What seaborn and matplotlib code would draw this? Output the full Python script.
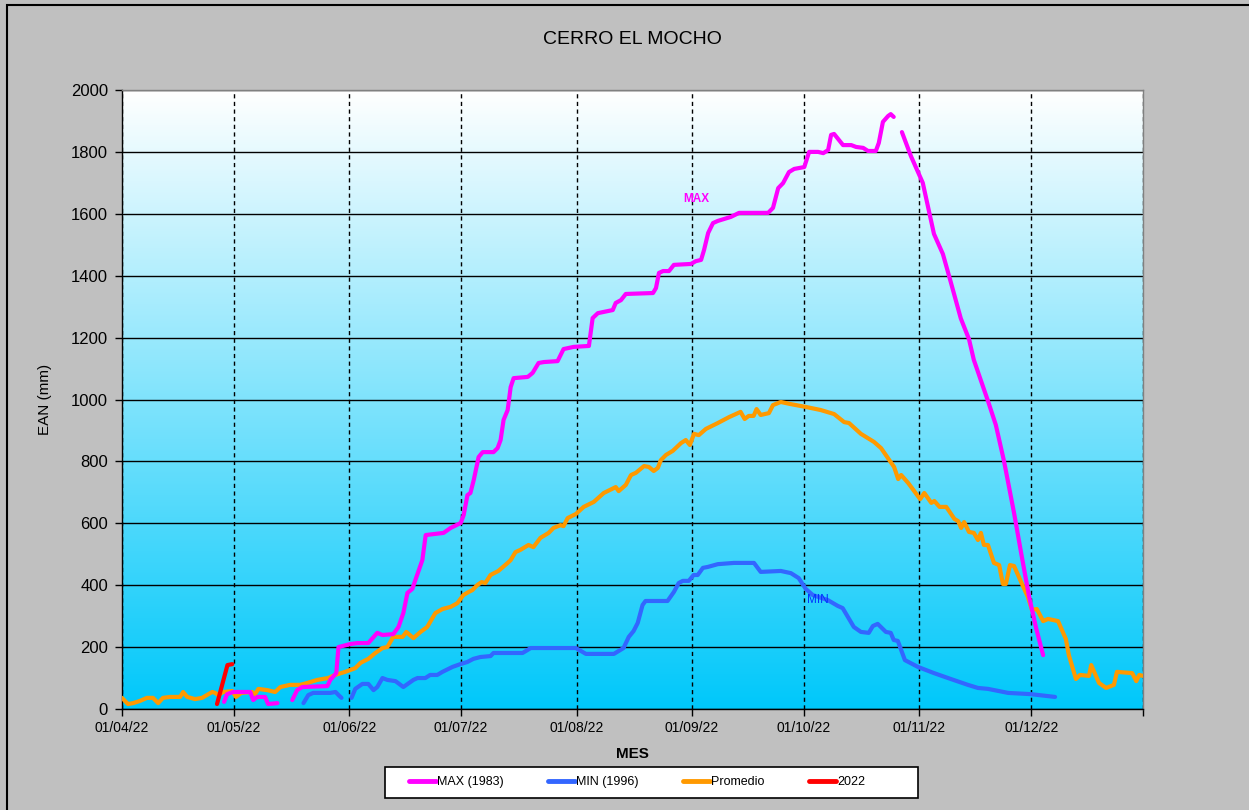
import numpy as np
import pandas as pd
import matplotlib
matplotlib.use('Agg')
import matplotlib.pyplot as plt
import seaborn as sns
from matplotlib.colors import LinearSegmentedColormap
from matplotlib.lines import Line2D
from matplotlib.patches import Rectangle

nan = np.nan
inicio = pd.Timestamp('2022-04-01')

# dias desde 01/04/22 y EAN (mm); nan = corte de la serie
max_dias = [27.4, 28.2, 29.8, 34.4, 35.2, 36.3, 38.4, 39.2, 41.7, nan,
            45.7, 47.0, 48.4, 55.1, 55.9, 57.5, 58.1, 61.3, 63.2, 66.1, 68.5, 69.9, 72.8, 74.2,
            75.5, 76.6, 77.9, 80.6, 81.5, 86.3, 88.2, 90.9, 91.7, 92.7, 93.5, 94.4, 95.7, 96.8,
            99.7, 100.8, 101.6, 102.4, 103.5, 104.3, 105.1, 108.9, 110.2, 111.8, 113.2, 116.9,
            118.5, 121.2, 125.3, 126.3, 127.7, 131.7, 132.5, 133.9, 135.2, 142.5, 143.3, 144.1,
            145.2, 146.8, 148.1, 152.7, 154.0, 155.4, 156.2, 157.3, 158.6, 159.9, 163.4, 165.6,
            173.4, 174.7, 176.1, 177.4, 179.0, 180.4, 183.1, 184.4, 186.8, 188.2, 189.5, 190.3,
            191.1, 193.5, 195.7, 197.0, 198.9, 200.2, 202.3, 203.1, 204.2, 205.6, 206.3, 207.1, nan,
            209.3, 211.7, 214.9, 217.9, 220.3, 222.4, 225.1, 227.3, 228.6, 232.4, 234.5, 236.7,
            239.4, 241.3, 243.4, 245.3, 247.2]
max_ean = [23, 48, 55, 55, 29, 39, 39, 16, 19, nan,
           29, 61, 71, 74, 94, 116, 200, 210, 213, 213, 246, 239, 242, 265,
           310, 375, 388, 481, 562, 569, 585, 601, 627, 691, 698, 740, 814, 830,
           830, 843, 869, 934, 966, 1040, 1069, 1073, 1086, 1118, 1121, 1124,
           1163, 1170, 1173, 1263, 1279, 1289, 1312, 1321, 1341, 1344, 1360, 1409,
           1415, 1415, 1435, 1438, 1447, 1451, 1483, 1538, 1570, 1577, 1590, 1603,
           1603, 1619, 1683, 1699, 1735, 1745, 1751, 1800, 1800, 1796, 1806, 1855,
           1858, 1822, 1822, 1816, 1813, 1803, 1803, 1829, 1897, 1916, 1922, 1913, nan,
           1864, 1787, 1700, 1535, 1470, 1380, 1262, 1195, 1128, 995, 918, 801,
           633, 504, 365, 262, 174]

min_dias = [48.7, 50.0, 51.3, 55.9, 57.3, 58.1, 58.9, nan,
            61.6, 62.6, 64.5, 66.1, 67.5, 68.5, 69.9, 71.2, 73.4, 75.5, 78.2, 79.3, 81.4, 82.7,
            84.6, 86.0, 88.7, 90.8, 92.7, 94.3, 96.2, 98.9, 99.7, 107.5, 109.7, 121.8, 124.5,
            132.0, 134.6, 136.0, 137.3, 138.4, 139.7, 140.5, 146.4, 148.1, 149.4, 150.5, 152.1,
            153.4, 154.5, 155.9, 157.2, 159.9, 164.2, 169.6, 171.4, 176.8, 179.5, 181.6, 183.5,
            185.4, 189.4, 192.1, 193.4, 196.4, 198.3, 200.4, 201.5, 202.8, 205.0, 206.3, 207.1,
            208.2, 210.1, 213.6, 217.9, 222.4, 227.0, 229.7, 232.4, 237.8, 243.9, 250.4]
min_ean = [19, 45, 52, 52, 55, 45, 36, nan,
           36, 65, 81, 81, 61, 71, 100, 94, 90, 71, 94, 100, 100, 110,
           110, 120, 136, 145, 152, 162, 168, 171, 181, 181, 197, 197, 178,
           178, 197, 233, 252, 278, 336, 349, 349, 378, 407, 414, 414,
           433, 433, 456, 459, 468, 472, 472, 443, 446, 439, 423, 388,
           368, 352, 333, 326, 265, 249, 246, 268, 275, 249, 246, 223,
           220, 158, 136, 116, 97, 78, 68, 65, 52, 48, 39]

prom_dias = [0.0, 1.6, 3.0, 4.8, 6.7, 8.3, 9.7, 11.0, 12.9, 15.6, 16.4, 17.5, 19.6, 21.5,
             22.8, 24.2, 25.0, 25.8, 27.2, 29.6, 30.6, 32.0, 34.9, 35.7, 36.6, 39.0, 41.1,
             42.5, 45.1, 47.8, 49.7, 52.4, 55.3, 57.2, 59.9, 62.6, 64.0, 66.1, 68.0, 69.9,
             71.2, 72.8, 75.3, 76.3, 78.2, 80.1, 81.9, 84.1, 86.0, 88.2, 90.0, 91.6, 93.0,
             94.0, 95.4, 96.5, 97.5, 98.9, 101.0, 103.5, 104.3, 105.6, 106.9, 109.1, 110.4,
             112.3, 114.5, 115.8, 117.7, 118.5, 119.6, 121.8, 123.9, 126.6, 129.3, 132.5,
             133.3, 135.2, 136.6, 137.9, 140.1, 141.4, 142.7, 143.8, 144.6, 146.0, 147.8,
             150.0, 151.3, 152.4, 153.5, 154.8, 156.7, 159.9, 162.9, 166.0, 167.1, 168.2,
             169.5, 170.3, 171.4, 173.6, 174.7, 176.8, 179.5, 183.5, 187.5, 191.1, 193.8,
             195.1, 198.3, 201.8, 203.7, 205.9, 207.2, 208.3, 209.1, 211.0, 212.6, 214.2,
             215.3, 217.2, 218.0, 219.4, 221.2, 223.4, 224.4, 225.2, 226.0, 227.3, 228.6,
             229.7, 230.5, 231.3, 232.4, 234.0, 235.4, 236.4, 237.2, 238.3, 239.4, 241.3,
             243.1, 244.2, 245.5, 247.2, 248.5, 251.2, 253.3, 254.1, 256.0, 257.1, 259.5,
             260.1, 262.2, 264.1, 266.2, 267.0, 271.1, 272.2, 273.0, 274.0]
prom_ean = [36, 16, 19, 26, 36, 36, 19, 36, 39, 39, 55, 39, 32, 36,
            45, 55, 52, 45, 55, 58, 39, 52, 55, 48, 65, 61, 55,
            71, 78, 78, 84, 94, 100, 110, 120, 132, 149, 162, 181, 197,
            200, 233, 233, 249, 229, 249, 265, 310, 323, 330, 342, 368, 378,
            384, 401, 410, 407, 433, 446, 472, 481, 507, 514, 530, 523,
            553, 569, 585, 594, 591, 617, 630, 653, 669, 698, 717,
            704, 724, 756, 763, 785, 782, 769, 779, 804, 821, 834,
            859, 869, 853, 889, 885, 905, 924, 943, 960, 937, 947,
            947, 969, 950, 956, 982, 992, 985, 976, 966, 953, 927,
            924, 889, 863, 843, 805, 782, 743, 756, 730, 704, 678,
            698, 666, 672, 653, 653, 614, 607, 585, 604, 572, 569,
            546, 569, 530, 530, 472, 465, 404, 404, 465, 462, 410,
            362, 320, 323, 284, 291, 284, 226, 174, 97, 110, 107,
            142, 84, 68, 78, 120, 116, 90, 110, 107]

dias_2022 = [25.5, 28.3, 29.6]
ean_2022 = [16, 142, 145]

series = ['MAX (1983)', 'MIN (1996)', 'Promedio', '2022']
colores = ['#FF00FF', '#3366FF', '#FF9900', '#FF0000']
mes_ticks = ['2022-04-01', '2022-05-01', '2022-06-01', '2022-07-01', '2022-08-01',
             '2022-09-01', '2022-10-01', '2022-11-01', '2022-12-01', '2022-12-31']
mes_labels = ['01/04/22', '01/05/22', '01/06/22', '01/07/22', '01/08/22',
              '01/09/22', '01/10/22', '01/11/22', '01/12/22', '']


def tramos(dias, ean, serie):
    d = np.array(dias, float)
    v = np.array(ean, float)
    corte = np.isnan(v)
    grupo = np.cumsum(corte)
    df = pd.DataFrame({'fecha': inicio + pd.to_timedelta(np.nan_to_num(d), unit='D'),
                       'ean': v, 'serie': serie,
                       'tramo': [f'{serie}-{g}' for g in grupo]})
    return df[~corte]


datos = pd.concat([tramos(max_dias, max_ean, series[0]),
                   tramos(min_dias, min_ean, series[1]),
                   tramos(prom_dias, prom_ean, series[2]),
                   tramos(dias_2022, ean_2022, series[3])], ignore_index=True)

sns.set_style('ticks')
plt.rcParams['font.family'] = ['Liberation Sans', 'DejaVu Sans']
plt.rcParams.update({'text.color': 'black', 'axes.labelcolor': 'black',
                     'xtick.color': 'black', 'ytick.color': 'black'})

W, H = 1249, 810
fig = plt.figure(figsize=(W / 100, H / 100), dpi=100, facecolor='#C0C0C0')
ax = fig.add_axes([122 / W, 1 - 709 / H, 1021 / W, 619 / H])

# fondo degradado del area de trazado
cmap = LinearSegmentedColormap.from_list('fondo', ['#00C8FA', '#FFFFFF'])
ax.imshow(np.linspace(0, 1, 256).reshape(-1, 1), cmap=cmap, origin='lower',
          extent=[0, 1, 0, 1], transform=ax.transAxes, aspect='auto', zorder=0)

orden = ['Promedio', 'MIN (1996)', 'MAX (1983)', '2022']
paleta = dict(zip(series, colores))
sns.lineplot(data=datos, x='fecha', y='ean', hue='serie', units='tramo', estimator=None,
             hue_order=orden, palette=paleta, linewidth=3, legend=False, ax=ax,
             solid_capstyle='round', zorder=3)

ticks = pd.to_datetime(mes_ticks)
ax.set_xlim(ticks[0], ticks[-1])
ax.set_ylim(0, 2000)
ax.set_yticks(range(0, 2001, 200))
ax.set_xticks(ticks)
ax.set_xticklabels(mes_labels)

ax.set_axisbelow(True)
ax.yaxis.grid(True, color='black', lw=1, linestyle='-')
ax.xaxis.grid(True, color='black', lw=1, linestyle=(0, (3, 2.5)))
ax.tick_params(axis='both', direction='out', length=5, width=1, color='black',
               labelcolor='black')
ax.tick_params(axis='x', labelsize=10, pad=4)
ax.tick_params(axis='y', labelsize=12, pad=5)

for s in ['left', 'bottom']:
    ax.spines[s].set_color('black')
    ax.spines[s].set_linewidth(1)
for s in ['top', 'right']:
    ax.spines[s].set_color('#808080')
    ax.spines[s].set_linewidth(1)

ax.set_xlabel('MES', fontsize=11, fontweight='bold', labelpad=8, color='black')
ax.set_ylabel('EAN (mm)', fontsize=11, labelpad=14, color='black')

ax.text(inicio + pd.Timedelta(days=150.5), 1648, 'MAX', color='#FF00FF', fontsize=8.5,
        fontweight='bold', ha='left', va='center')
ax.text(inicio + pd.Timedelta(days=183.8), 352, 'MIN', color='#0033FF', fontsize=8.5,
        ha='left', va='center')

fig.text(632 / W, 1 - 40 / H, 'CERRO EL MOCHO', fontsize=14, ha='center', va='center',
         color='black')

# marco del grafico y leyenda
fig.add_artist(Rectangle((7 / W, -0.1), 1.2, 1.1 - 5 / H, transform=fig.transFigure,
                         fill=False, ec='black', lw=1.5))
fig.add_artist(Rectangle((385 / W, 1 - 798 / H), 533 / W, 31 / H, transform=fig.transFigure,
                         fc='white', ec='black', lw=1.2))
handles = [Line2D([], [], color=c, lw=3.5) for c in colores]
leg = fig.legend(handles, series, ncol=4, loc='center', bbox_to_anchor=(637 / W, 1 - 782 / H),
                 frameon=False, fontsize=9, handlelength=2.2, handletextpad=0.1,
                 columnspacing=3.5)
for t in leg.get_texts():
    t.set_color('black')

fig.savefig('out.png', dpi=100, facecolor=fig.get_facecolor())
